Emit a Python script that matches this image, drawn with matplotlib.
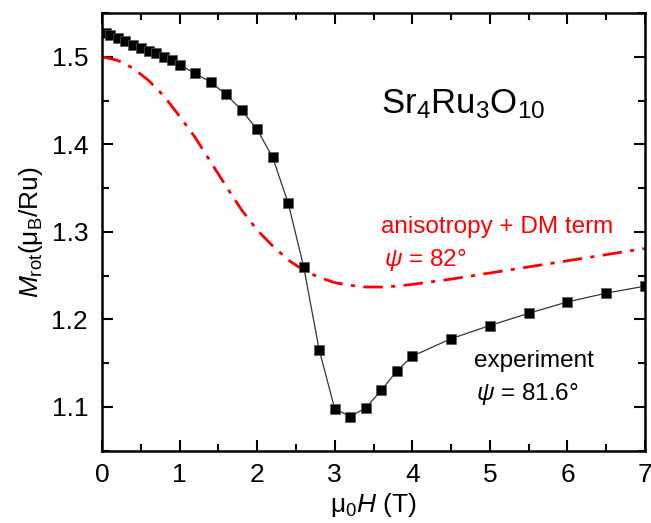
import matplotlib
matplotlib.use("Agg")
import matplotlib.pyplot as plt
from matplotlib.ticker import MultipleLocator

plt.rcParams['font.family'] = ['Liberation Sans', 'DejaVu Sans']
plt.rcParams['mathtext.fontset'] = 'custom'
plt.rcParams['mathtext.rm'] = 'Liberation Sans'
plt.rcParams['mathtext.it'] = 'Liberation Sans:italic'
plt.rcParams['mathtext.bf'] = 'Liberation Sans:bold'

# experiment data
exp_H = [0.05, 0.1, 0.2, 0.3, 0.4, 0.5, 0.6, 0.7, 0.8, 0.9, 1.0,
         1.2, 1.4, 1.6, 1.8, 2.0, 2.2, 2.4, 2.6, 2.8, 3.0, 3.2, 3.4, 3.6, 3.8, 4.0,
         4.5, 5.0, 5.5, 6.0, 6.5, 7.0]
exp_M = [1.527, 1.525, 1.522, 1.518, 1.514, 1.510, 1.507, 1.504, 1.500, 1.496, 1.491,
         1.481, 1.471, 1.457, 1.439, 1.417, 1.385, 1.333, 1.260, 1.165, 1.098, 1.089,
         1.099, 1.119, 1.141, 1.158, 1.178, 1.193, 1.207, 1.220, 1.230, 1.238]

# model curve (anisotropy + DM term)
mod_H = [0, 0.2, 0.4, 0.6, 0.8, 1.0, 1.2, 1.4, 1.6, 1.8, 2.0, 2.2, 2.4, 2.6, 2.8,
         3.0, 3.2, 3.4, 3.6, 3.8, 4.0, 4.5, 5.0, 5.5, 6.0, 6.5, 7.0]
mod_M = [1.500, 1.496, 1.487, 1.473, 1.455, 1.432, 1.408, 1.380, 1.352, 1.325, 1.302,
         1.284, 1.268, 1.256, 1.248, 1.242, 1.239, 1.237, 1.237, 1.238, 1.240, 1.246,
         1.253, 1.260, 1.267, 1.274, 1.281]

fig = plt.figure(figsize=(6.51, 5.23), dpi=100)
ax = fig.add_axes([0.1567, 0.1382, 0.9908 - 0.1567, 0.9751 - 0.1382])

ax.plot(mod_H, mod_M, color='#ff0000', lw=2.0, linestyle=(0, (7, 3, 1.5, 3)))
ax.plot(exp_H, exp_M, color='#333333', lw=0.9, marker='s', markersize=7.5,
        markerfacecolor='black', markeredgecolor='#555555', markeredgewidth=0.5)

ax.set_xlim(0, 7)
ax.set_ylim(1.05, 1.55)
ax.xaxis.set_major_locator(MultipleLocator(1))
ax.xaxis.set_minor_locator(MultipleLocator(0.5))
ax.yaxis.set_minor_locator(MultipleLocator(0.05))
ax.set_yticks([1.1, 1.2, 1.3, 1.4, 1.5])
ax.set_yticklabels(['1.1', '1.2', '1.3', '1.4', '1.5'])

ax.tick_params(which='both', direction='in', top=True, right=True, width=1.5,
               labelsize=19)
ax.tick_params(axis='y', pad=10)
ax.tick_params(axis='x', pad=9)
ax.tick_params(which='major', length=8)
ax.tick_params(which='minor', length=5)
for s in ax.spines.values():
    s.set_linewidth(1.8)

ax.set_xlabel(r'$\mathrm{μ}_0H$ (T)', fontsize=19, labelpad=3)
ax.set_ylabel(r'$M_{\mathrm{rot}}(\mathrm{μ}_{\mathrm{B}}\mathrm{/Ru})$', fontsize=19, labelpad=5)

ax.text(3.6, 1.436, r'Sr$_4$Ru$_3$O$_{10}$', fontsize=25, color='black')
ax.text(3.6, 1.299, 'anisotropy + DM term', fontsize=17.5, color='#ff0000')
ax.text(3.63, 1.261, r'$\psi$ = 82°', fontsize=17.5, color='#ff0000')
ax.text(4.8, 1.146, 'experiment', fontsize=17.5, color='black')
ax.text(4.82, 1.108, r'$\psi$ = 81.6°', fontsize=17.5, color='black')

fig.savefig('out.png', dpi=100)
